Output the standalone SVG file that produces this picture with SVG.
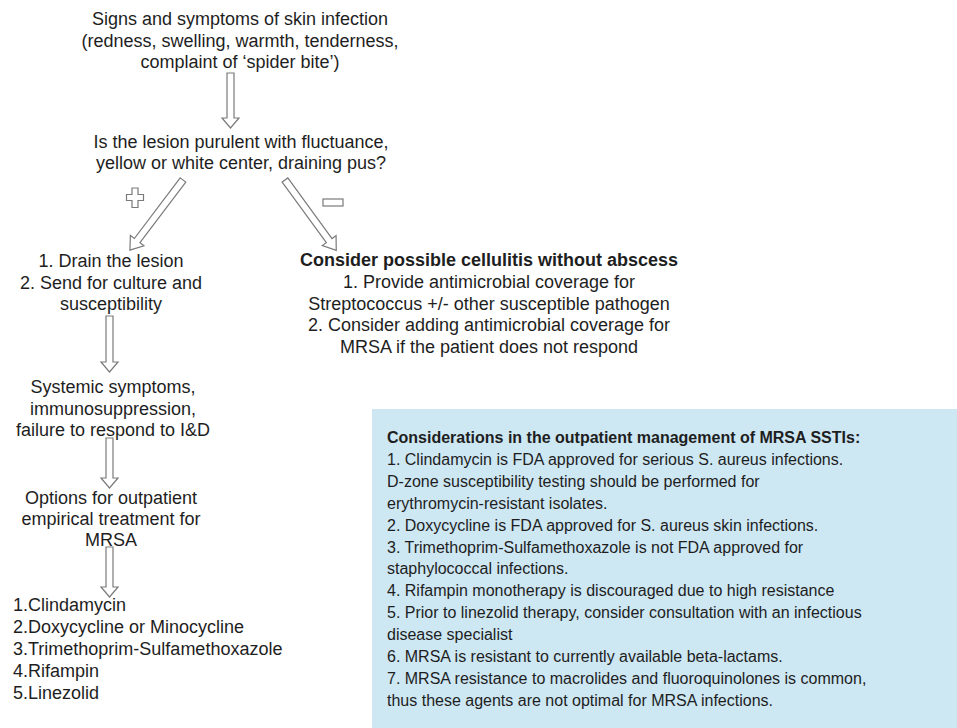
<svg xmlns="http://www.w3.org/2000/svg" width="957" height="728" viewBox="0 0 957 728">
<style>
.t{font-family:"Liberation Sans",Arial,Helvetica,sans-serif;font-size:18px;fill:#1e1e1e}
.c{text-anchor:middle}
.b{font-weight:bold}
.s{font-size:16px}
.ar{fill:#fff;stroke:#7a7a7a;stroke-width:1.2;stroke-linejoin:miter}
</style>
<rect width="957" height="728" fill="#fff"/>
<g id="n-signs">
<text class="t c" x="240" y="25">Signs and symptoms of skin infection</text>
<text class="t c" x="240" y="46.5">(redness, swelling, warmth, tenderness,</text>
<text class="t c" x="240" y="67.5">complaint of ‘spider bite’)</text>
</g>
<g id="n-purulent">
<text class="t c" x="241" y="148">Is the lesion purulent with fluctuance,</text>
<text class="t c" x="241" y="169">yellow or white center, draining pus?</text>
</g>
<g id="n-drain">
<text class="t c" x="111" y="267">1. Drain the lesion</text>
<text class="t c" x="111" y="288.5">2. Send for culture and</text>
<text class="t c" x="111" y="310">susceptibility</text>
</g>
<g id="n-cellulitis">
<text class="t c b" x="489" y="266">Consider possible cellulitis without abscess</text>
<text class="t c" x="489" y="288">1. Provide antimicrobial coverage for</text>
<text class="t c" x="489" y="309.5">Streptococcus +/- other susceptible pathogen</text>
<text class="t c" x="489" y="331">2. Consider adding antimicrobial coverage for</text>
<text class="t c" x="489" y="352.5">MRSA if the patient does not respond</text>
</g>
<g id="n-systemic">
<text class="t c" x="113" y="393">Systemic symptoms,</text>
<text class="t c" x="113" y="414.5">immunosuppression,</text>
<text class="t c" x="113" y="436">failure to respond to I&amp;D</text>
</g>
<g id="n-options">
<text class="t c" x="111" y="504">Options for outpatient</text>
<text class="t c" x="111" y="525">empirical treatment for</text>
<text class="t c" x="111" y="546">MRSA</text>
</g>
<g id="n-list">
<text class="t" x="13" y="610.5">1.Clindamycin</text>
<text class="t" x="13" y="632.5">2.Doxycycline or Minocycline</text>
<text class="t" x="13" y="654.5">3.Trimethoprim-Sulfamethoxazole</text>
<text class="t" x="13" y="676.5">4.Rifampin</text>
<text class="t" x="13" y="698.5">5.Linezolid</text>
</g>
<g id="n-considerations">
<rect x="372" y="409" width="585" height="319" fill="#cde7f3"/>
<text class="t s b" x="387" y="443">Considerations in the outpatient management of MRSA SSTIs:</text>
<text class="t s" x="387" y="464.9">1. Clindamycin is FDA approved for serious S. aureus infections.</text>
<text class="t s" x="387" y="486.8">D-zone susceptibility testing should be performed for</text>
<text class="t s" x="387" y="508.7">erythromycin-resistant isolates.</text>
<text class="t s" x="387" y="530.6">2. Doxycycline is FDA approved for S. aureus skin infections.</text>
<text class="t s" x="387" y="552.5">3. Trimethoprim-Sulfamethoxazole is not FDA approved for</text>
<text class="t s" x="387" y="574.4">staphylococcal infections.</text>
<text class="t s" x="387" y="596.3">4. Rifampin monotherapy is discouraged due to high resistance</text>
<text class="t s" x="387" y="618.2">5. Prior to linezolid therapy, consider consultation with an infectious</text>
<text class="t s" x="387" y="640.1">disease specialist</text>
<text class="t s" x="387" y="662">6. MRSA is resistant to currently available beta-lactams.</text>
<text class="t s" x="387" y="683.9">7. MRSA resistance to macrolides and fluoroquinolones is common,</text>
<text class="t s" x="387" y="705.8">thus these agents are not optimal for MRSA infections.</text>
</g>
<g id="connectors">
<path class="ar" d="M227,73 H234 V118 H239 L230.5,128 L222,118 H227 Z"/>
<path class="ar" transform="translate(183,180) rotate(37.1)" d="M-3.5,0 H3.5 V76 H8.5 L0,88 L-8.5,76 H-3.5 Z"/>
<path class="ar" transform="translate(285,180) rotate(-36.1)" d="M-3.5,0 H3.5 V75 H8.5 L0,87 L-8.5,75 H-3.5 Z"/>
<path class="ar" d="M106,316 H113 V362 H118 L109.5,372 L101,362 H106 Z"/>
<path class="ar" d="M106,438 H113 V478 H118 L109.5,488 L101,478 H106 Z"/>
<path class="ar" d="M106,547 H113 V587 H118 L109.5,597 L101,587 H106 Z"/>
<path id="plus" class="ar" d="M132,188 H138 V194.5 H143.5 V200.5 H138 V207.5 H132 V200.5 H126.5 V194.5 H132 Z"/>
<rect id="minus" class="ar" x="323" y="199" width="20" height="7"/>
</g>
</svg>
